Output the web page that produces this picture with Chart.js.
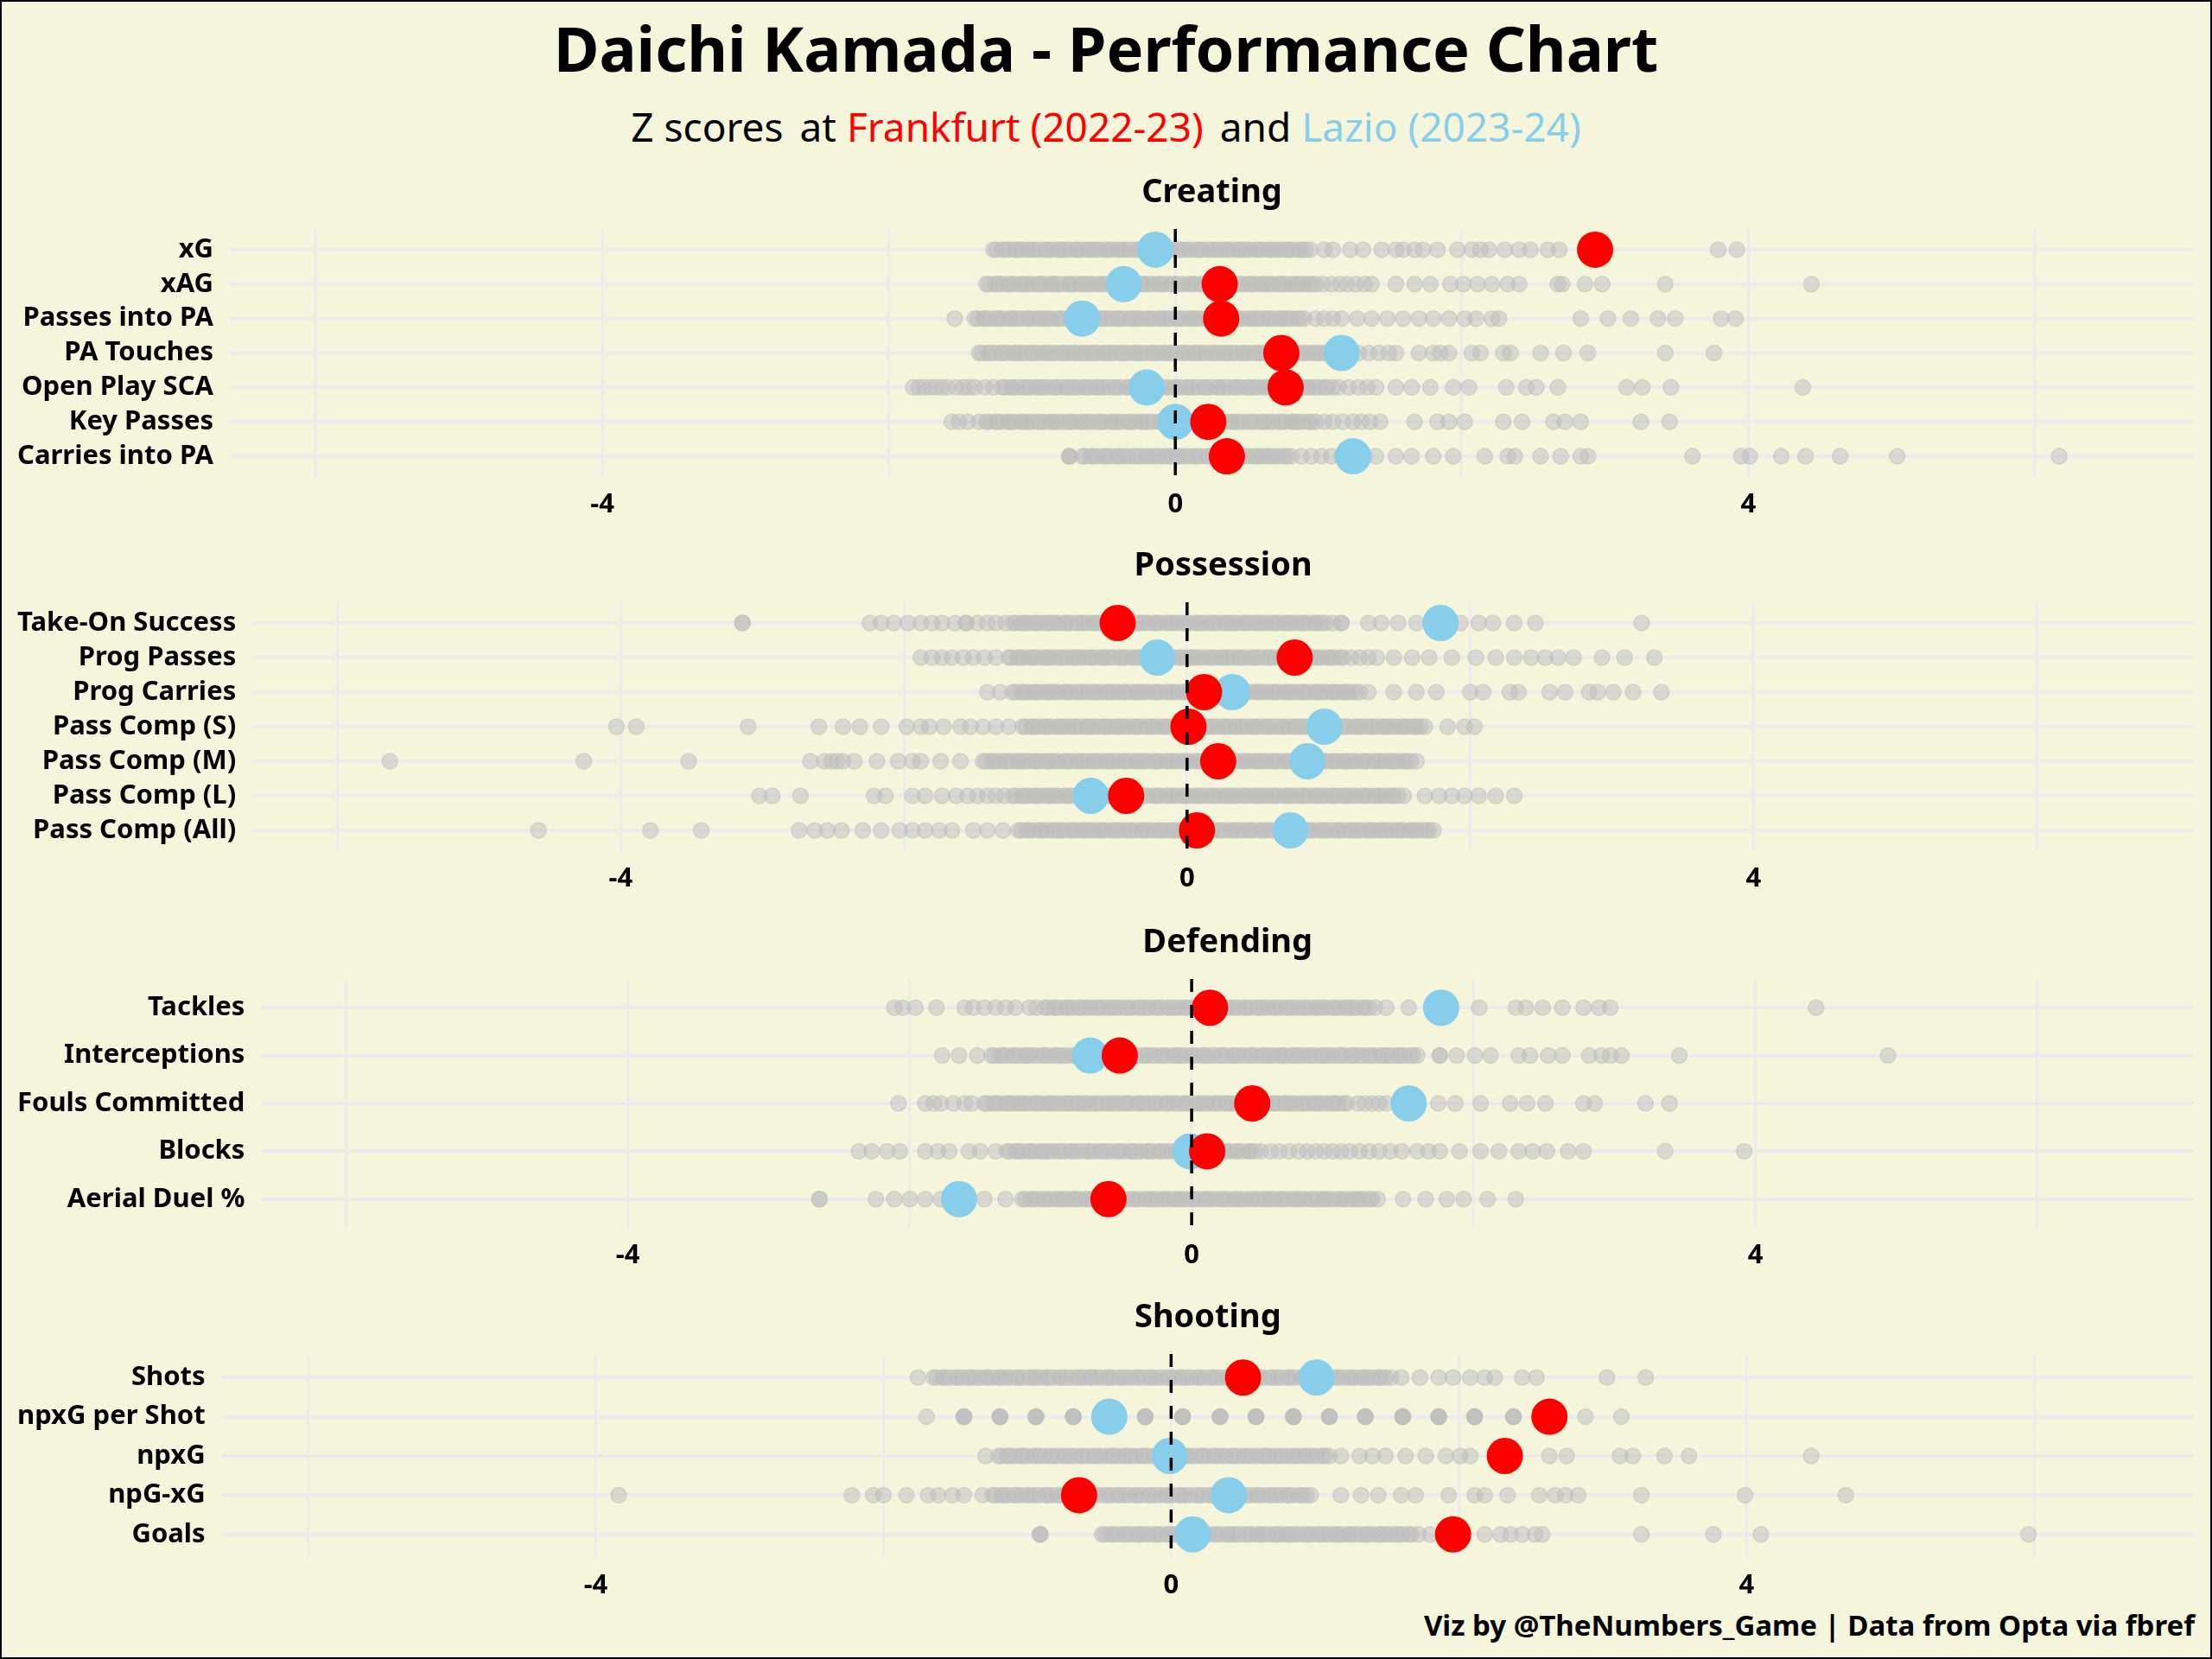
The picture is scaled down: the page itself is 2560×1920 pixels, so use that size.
<!DOCTYPE html>
<html>
<head>
<meta charset="utf-8">
<script src="https://cdn.jsdelivr.net/npm/chart.js@4.4.1/dist/chart.umd.min.js"></script>
<style>
html, body { margin: 0; padding: 0; background: #F5F5DC; }
#page { position: relative; width: 2560px; height: 1920px; background: #F5F5DC; overflow: hidden; font-family: 'Noto Sans', sans-serif; }
#frame { position: absolute; left: 0; top: 0; width: 2560px; height: 1920px; box-sizing: border-box; border: 2px solid #000; pointer-events: none; z-index: 5; }
.txt { position: absolute; left: 0; width: 2560px; text-align: center; white-space: pre; color: #000; }
#title { top: 15px; font-size: 72px; line-height: 80px; font-weight: 700; }
#subtitle { top: 116px; font-size: 46px; line-height: 60px; }
#subtitle .gap { margin-left: 7px; }
#caption { top: 1861px; left: auto; right: 20px; width: auto; font-size: 33px; line-height: 40px; font-weight: 700; text-align: right; }
canvas { position: absolute; left: 0; }
</style>
</head>
<body>
<div id="page">
  <div id="title" class="txt">Daichi Kamada - Performance Chart</div>
  <div id="subtitle" class="txt">Z scores <span class="gap">at</span> <span style="color:#FF0000">Frankfurt (2022-23)</span> <span class="gap">and</span> <span style="color:#87CEEB">Lazio (2023-24)</span></div>
  <div id="caption" class="txt">Viz by @TheNumbers_Game | Data from Opta via fbref</div>
  <div id="frame"></div>
</div>
<script>
// ---- data (z scores) ----
const creatingMetrics = ["xG", "xAG", "Passes into PA", "PA Touches", "Open Play SCA", "Key Passes", "Carries into PA"];
const creatingFrankfurt = [2.93, 0.31, 0.32, 0.74, 0.77, 0.23, 0.36];
const creatingLazio = [-0.14, -0.36, -0.65, 1.16, -0.20, 0.0, 1.24];
const creatingOthers = [
  [-1.27,-1.25,-1.21,-1.19,-1.16,-1.12,-1.1,-1.07,-1.03,-1.01,-0.98,-0.95,-0.91,-0.89,-0.86,-0.82,-0.8,-0.77,-0.74,-0.7,-0.68,-0.65,-0.61,-0.59,-0.56,-0.53,-0.49,-0.47,-0.44,-0.4,-0.38,-0.35,-0.32,-0.28,-0.26,-0.23,-0.19,-0.17,-0.14,-0.11,-0.07,-0.05,-0.02,0.02,0.04,0.07,0.1,0.14,0.16,0.19,0.23,0.25,0.28,0.31,0.35,0.37,0.4,0.44,0.46,0.49,0.52,0.56,0.58,0.61,0.65,0.67,0.7,0.73,0.77,0.79,0.82,0.86,0.88,0.91,0.94,1.04,1.1,1.22,1.31,1.44,1.54,1.59,1.67,1.73,1.83,1.97,2.07,2.13,2.19,2.3,2.4,2.48,2.6,2.68,3.79,3.92],
  [-1.32,-1.3,-1.26,-1.24,-1.21,-1.17,-1.15,-1.12,-1.08,-1.06,-1.03,-1,-0.96,-0.94,-0.91,-0.87,-0.85,-0.82,-0.79,-0.75,-0.73,-0.7,-0.66,-0.64,-0.61,-0.58,-0.54,-0.52,-0.49,-0.45,-0.43,-0.4,-0.37,-0.33,-0.31,-0.28,-0.24,-0.22,-0.19,-0.16,-0.12,-0.1,-0.07,-0.03,-0.01,0.02,0.05,0.09,0.11,0.14,0.18,0.2,0.23,0.26,0.3,0.32,0.35,0.39,0.41,0.44,0.47,0.51,0.53,0.56,0.6,0.62,0.65,0.68,0.72,0.74,0.77,0.81,0.83,0.86,0.89,0.93,0.95,0.98,1.03,1.09,1.15,1.2,1.26,1.32,1.37,1.54,1.67,1.78,1.92,2.01,2.11,2.21,2.32,2.4,2.67,2.7,2.86,2.98,3.42,4.44],
  [-1.54,-1.4,-1.38,-1.34,-1.32,-1.29,-1.25,-1.23,-1.2,-1.16,-1.14,-1.11,-1.08,-1.04,-1.02,-0.99,-0.95,-0.93,-0.9,-0.87,-0.83,-0.81,-0.78,-0.74,-0.72,-0.69,-0.66,-0.62,-0.6,-0.57,-0.53,-0.51,-0.48,-0.45,-0.41,-0.39,-0.36,-0.32,-0.3,-0.27,-0.24,-0.2,-0.18,-0.15,-0.11,-0.09,-0.06,-0.03,0.01,0.03,0.06,0.1,0.12,0.15,0.18,0.22,0.24,0.27,0.31,0.33,0.36,0.39,0.43,0.45,0.48,0.52,0.54,0.57,0.6,0.64,0.66,0.69,0.73,0.75,0.78,0.81,0.85,0.87,0.9,0.98,1.04,1.1,1.16,1.27,1.37,1.48,1.59,1.7,1.8,1.91,2.02,2.1,2.21,2.26,2.83,3.02,3.18,3.37,3.49,3.81,3.91],
  [-1.37,-1.35,-1.31,-1.29,-1.26,-1.22,-1.2,-1.17,-1.13,-1.11,-1.08,-1.05,-1.01,-0.99,-0.96,-0.92,-0.9,-0.87,-0.84,-0.8,-0.78,-0.75,-0.71,-0.69,-0.66,-0.63,-0.59,-0.57,-0.54,-0.5,-0.48,-0.45,-0.42,-0.38,-0.36,-0.33,-0.29,-0.27,-0.24,-0.21,-0.17,-0.15,-0.12,-0.08,-0.06,-0.03,0,0.04,0.06,0.09,0.13,0.15,0.18,0.21,0.25,0.27,0.3,0.34,0.36,0.39,0.42,0.46,0.48,0.51,0.55,0.57,0.6,0.63,0.67,0.69,0.72,0.76,0.78,0.81,0.84,0.88,0.9,0.93,0.97,0.99,1.02,1.05,1.09,1.11,1.14,1.18,1.2,1.23,1.28,1.35,1.42,1.49,1.54,1.7,1.8,1.85,1.91,2.07,2.13,2.29,2.34,2.55,2.71,2.88,3.42,3.76],
  [-1.83,-1.79,-1.75,-1.71,-1.67,-1.63,-1.59,-1.53,-1.48,-1.44,-1.4,-1.33,-1.27,-1.21,-1.19,-1.15,-1.13,-1.1,-1.06,-1.04,-1.01,-0.97,-0.95,-0.92,-0.89,-0.85,-0.83,-0.8,-0.76,-0.74,-0.71,-0.68,-0.64,-0.62,-0.59,-0.55,-0.53,-0.5,-0.47,-0.43,-0.41,-0.38,-0.34,-0.32,-0.29,-0.26,-0.22,-0.2,-0.17,-0.13,-0.11,-0.08,-0.05,-0.01,0.01,0.04,0.08,0.1,0.13,0.16,0.2,0.22,0.25,0.29,0.31,0.34,0.37,0.41,0.43,0.46,0.5,0.52,0.55,0.58,0.62,0.64,0.67,0.71,0.73,0.76,0.79,0.83,0.85,0.88,0.92,0.94,0.97,1,1.04,1.06,1.1,1.14,1.21,1.28,1.34,1.4,1.54,1.65,1.78,1.94,2.05,2.31,2.45,2.52,2.67,3.15,3.26,3.46,4.38],
  [-1.56,-1.51,-1.45,-1.37,-1.32,-1.3,-1.26,-1.24,-1.21,-1.17,-1.15,-1.12,-1.08,-1.06,-1.03,-1,-0.96,-0.94,-0.91,-0.87,-0.85,-0.82,-0.79,-0.75,-0.73,-0.7,-0.66,-0.64,-0.61,-0.58,-0.54,-0.52,-0.49,-0.45,-0.43,-0.4,-0.37,-0.33,-0.31,-0.28,-0.24,-0.22,-0.19,-0.16,-0.12,-0.1,-0.07,-0.03,-0.01,0.02,0.05,0.09,0.11,0.14,0.18,0.2,0.23,0.26,0.3,0.32,0.35,0.39,0.41,0.44,0.47,0.51,0.53,0.56,0.6,0.62,0.65,0.68,0.72,0.74,0.77,0.81,0.83,0.86,0.89,0.93,0.95,0.98,1.04,1.1,1.17,1.24,1.3,1.36,1.43,1.67,1.83,1.91,2.02,2.29,2.42,2.64,2.72,2.83,3.25,3.45],
  [-0.74,-0.74,-0.74,-0.65,-0.63,-0.59,-0.57,-0.54,-0.5,-0.48,-0.45,-0.41,-0.39,-0.36,-0.33,-0.29,-0.27,-0.24,-0.2,-0.18,-0.15,-0.12,-0.08,-0.06,-0.03,0.01,0.03,0.06,0.09,0.13,0.15,0.18,0.22,0.24,0.27,0.3,0.34,0.36,0.39,0.43,0.45,0.48,0.51,0.55,0.57,0.6,0.64,0.66,0.69,0.72,0.76,0.78,0.81,0.88,0.95,1.02,1.09,1.16,1.24,1.32,1.4,1.54,1.65,1.8,1.94,2.16,2.32,2.37,2.55,2.69,2.83,2.88,3.61,3.95,4.01,4.23,4.4,4.64,5.04,6.17]
];

const possessionMetrics = ["Take-On Success", "Prog Passes", "Prog Carries", "Pass Comp (S)", "Pass Comp (M)", "Pass Comp (L)", "Pass Comp (All)"];
const possessionFrankfurt = [-0.49, 0.76, 0.12, 0.01, 0.22, -0.43, 0.07];
const possessionLazio = [1.79, -0.21, 0.32, 0.97, 0.85, -0.68, 0.73];
const possessionOthers = [
  [-3.14,-3.14,-2.24,-2.16,-2.07,-1.97,-1.88,-1.8,-1.73,-1.64,-1.56,-1.56,-1.48,-1.41,-1.35,-1.28,-1.23,-1.21,-1.17,-1.15,-1.12,-1.08,-1.06,-1.03,-0.99,-0.97,-0.94,-0.91,-0.87,-0.85,-0.82,-0.78,-0.76,-0.73,-0.7,-0.66,-0.64,-0.61,-0.57,-0.55,-0.52,-0.49,-0.45,-0.43,-0.4,-0.36,-0.34,-0.31,-0.28,-0.24,-0.22,-0.19,-0.15,-0.13,-0.1,-0.07,-0.03,-0.01,0.02,0.06,0.08,0.11,0.14,0.18,0.2,0.23,0.27,0.29,0.32,0.35,0.39,0.41,0.44,0.48,0.5,0.53,0.56,0.6,0.62,0.65,0.69,0.71,0.74,0.77,0.81,0.83,0.86,0.9,0.92,0.95,0.98,1.03,1.09,1.09,1.28,1.37,1.49,1.62,1.93,2.06,2.16,2.31,2.46,3.21],
  [-1.88,-1.8,-1.73,-1.66,-1.58,-1.51,-1.43,-1.35,-1.26,-1.24,-1.2,-1.18,-1.15,-1.11,-1.09,-1.06,-1.02,-1,-0.97,-0.94,-0.9,-0.88,-0.85,-0.81,-0.79,-0.76,-0.73,-0.69,-0.67,-0.64,-0.6,-0.58,-0.55,-0.52,-0.48,-0.46,-0.43,-0.39,-0.37,-0.34,-0.31,-0.27,-0.25,-0.22,-0.18,-0.16,-0.13,-0.1,-0.06,-0.04,-0.01,0.03,0.05,0.08,0.11,0.15,0.17,0.2,0.24,0.26,0.29,0.32,0.36,0.38,0.41,0.45,0.47,0.5,0.53,0.57,0.59,0.62,0.66,0.68,0.71,0.74,0.78,0.8,0.83,0.87,0.89,0.92,0.95,0.99,1.01,1.04,1.08,1.1,1.16,1.22,1.28,1.34,1.46,1.59,1.71,1.87,2.04,2.18,2.31,2.43,2.53,2.62,2.73,2.93,3.09,3.3],
  [-1.41,-1.32,-1.23,-1.21,-1.17,-1.15,-1.12,-1.08,-1.06,-1.03,-0.99,-0.97,-0.94,-0.91,-0.87,-0.85,-0.82,-0.78,-0.76,-0.73,-0.7,-0.66,-0.64,-0.61,-0.57,-0.55,-0.52,-0.49,-0.45,-0.43,-0.4,-0.36,-0.34,-0.31,-0.28,-0.24,-0.22,-0.19,-0.15,-0.13,-0.1,-0.07,-0.03,-0.01,0.02,0.06,0.08,0.11,0.14,0.18,0.2,0.23,0.27,0.29,0.32,0.35,0.39,0.41,0.44,0.48,0.5,0.53,0.56,0.6,0.62,0.65,0.69,0.71,0.74,0.77,0.81,0.83,0.86,0.9,0.92,0.95,0.98,1.02,1.04,1.07,1.11,1.13,1.16,1.19,1.22,1.28,1.46,1.62,1.76,2,2.09,2.28,2.34,2.56,2.67,2.84,2.9,3.01,3.15,3.35],
  [-4.03,-3.89,-3.1,-2.6,-2.43,-2.31,-2.16,-1.98,-1.88,-1.82,-1.72,-1.6,-1.53,-1.44,-1.35,-1.26,-1.16,-1.14,-1.1,-1.08,-1.05,-1.01,-0.99,-0.96,-0.92,-0.9,-0.87,-0.84,-0.8,-0.78,-0.75,-0.71,-0.69,-0.66,-0.63,-0.59,-0.57,-0.54,-0.5,-0.48,-0.45,-0.42,-0.38,-0.36,-0.33,-0.29,-0.27,-0.24,-0.21,-0.17,-0.15,-0.12,-0.08,-0.06,-0.03,0,0.04,0.06,0.09,0.13,0.15,0.18,0.21,0.25,0.27,0.3,0.34,0.36,0.39,0.42,0.46,0.48,0.51,0.55,0.57,0.6,0.63,0.67,0.69,0.72,0.76,0.78,0.81,0.84,0.88,0.9,0.93,0.97,0.99,1.02,1.05,1.09,1.11,1.14,1.18,1.2,1.23,1.26,1.3,1.32,1.35,1.39,1.41,1.44,1.47,1.51,1.53,1.56,1.6,1.62,1.65,1.68,1.84,1.96,2.03],
  [-5.63,-4.26,-3.52,-2.66,-2.56,-2.51,-2.47,-2.43,-2.35,-2.19,-2.04,-1.94,-1.88,-1.74,-1.6,-1.44,-1.42,-1.38,-1.36,-1.33,-1.29,-1.27,-1.24,-1.2,-1.18,-1.15,-1.12,-1.08,-1.06,-1.03,-0.99,-0.97,-0.94,-0.91,-0.87,-0.85,-0.82,-0.78,-0.76,-0.73,-0.7,-0.66,-0.64,-0.61,-0.57,-0.55,-0.52,-0.49,-0.45,-0.43,-0.4,-0.36,-0.34,-0.31,-0.28,-0.24,-0.22,-0.19,-0.15,-0.13,-0.1,-0.07,-0.03,-0.01,0.02,0.06,0.08,0.11,0.14,0.18,0.2,0.23,0.27,0.29,0.32,0.35,0.39,0.41,0.44,0.48,0.5,0.53,0.56,0.6,0.62,0.65,0.69,0.71,0.74,0.77,0.81,0.83,0.86,0.9,0.92,0.95,0.98,1.02,1.04,1.07,1.11,1.13,1.16,1.19,1.23,1.25,1.28,1.32,1.34,1.37,1.4,1.44,1.46,1.49,1.53,1.55,1.58,1.62],
  [-3.02,-2.93,-2.73,-2.21,-2.13,-1.94,-1.85,-1.73,-1.63,-1.55,-1.48,-1.41,-1.35,-1.29,-1.23,-1.21,-1.17,-1.15,-1.12,-1.08,-1.06,-1.03,-0.99,-0.97,-0.94,-0.91,-0.87,-0.85,-0.82,-0.78,-0.76,-0.73,-0.7,-0.66,-0.64,-0.61,-0.57,-0.55,-0.52,-0.49,-0.45,-0.43,-0.4,-0.36,-0.34,-0.31,-0.28,-0.24,-0.22,-0.19,-0.15,-0.13,-0.1,-0.07,-0.03,-0.01,0.02,0.06,0.08,0.11,0.14,0.18,0.2,0.23,0.27,0.29,0.32,0.35,0.39,0.41,0.44,0.48,0.5,0.53,0.56,0.6,0.62,0.65,0.69,0.71,0.74,0.77,0.81,0.83,0.86,0.9,0.92,0.95,0.98,1.02,1.04,1.07,1.11,1.13,1.16,1.19,1.23,1.25,1.28,1.32,1.34,1.37,1.4,1.44,1.46,1.49,1.53,1.68,1.78,1.87,1.96,2.06,2.18,2.31],
  [-4.58,-3.79,-3.43,-2.74,-2.63,-2.54,-2.44,-2.29,-2.16,-2.03,-1.94,-1.85,-1.75,-1.66,-1.51,-1.41,-1.3,-1.19,-1.17,-1.13,-1.11,-1.08,-1.04,-1.02,-0.99,-0.95,-0.93,-0.9,-0.87,-0.83,-0.81,-0.78,-0.74,-0.72,-0.69,-0.66,-0.62,-0.6,-0.57,-0.53,-0.51,-0.48,-0.45,-0.41,-0.39,-0.36,-0.32,-0.3,-0.27,-0.24,-0.2,-0.18,-0.15,-0.11,-0.09,-0.06,-0.03,0.01,0.03,0.06,0.1,0.12,0.15,0.18,0.22,0.24,0.27,0.31,0.33,0.36,0.39,0.43,0.45,0.48,0.52,0.54,0.57,0.6,0.64,0.66,0.69,0.73,0.75,0.78,0.81,0.85,0.87,0.9,0.94,0.96,0.99,1.02,1.06,1.08,1.11,1.15,1.17,1.2,1.23,1.27,1.29,1.32,1.36,1.38,1.41,1.44,1.48,1.5,1.53,1.57,1.59,1.62,1.65,1.69,1.71,1.74]
];

const defendingMetrics = ["Tackles", "Interceptions", "Fouls Committed", "Blocks", "Aerial Duel %"];
const defendingFrankfurt = [0.13, -0.51, 0.43, 0.11, -0.59];
const defendingLazio = [1.77, -0.72, 1.54, -0.01, -1.65];
const defendingOthers = [
  [-2.11,-2.05,-1.96,-1.81,-1.61,-1.55,-1.47,-1.39,-1.32,-1.25,-1.15,-1.1,-1.04,-1.02,-0.98,-0.96,-0.93,-0.89,-0.87,-0.84,-0.8,-0.78,-0.75,-0.72,-0.68,-0.66,-0.63,-0.59,-0.57,-0.54,-0.51,-0.47,-0.45,-0.42,-0.38,-0.36,-0.33,-0.3,-0.26,-0.24,-0.21,-0.17,-0.15,-0.12,-0.09,-0.05,-0.03,0,0.04,0.06,0.09,0.12,0.16,0.18,0.21,0.25,0.27,0.3,0.33,0.37,0.39,0.42,0.46,0.48,0.51,0.54,0.58,0.6,0.63,0.67,0.69,0.72,0.75,0.79,0.81,0.84,0.88,0.9,0.93,0.96,1,1.02,1.05,1.09,1.11,1.14,1.17,1.21,1.23,1.26,1.3,1.38,1.54,2.04,2.3,2.37,2.49,2.63,2.78,2.89,2.97,4.43],
  [-1.77,-1.65,-1.52,-1.42,-1.4,-1.36,-1.34,-1.31,-1.27,-1.25,-1.22,-1.18,-1.16,-1.13,-1.1,-1.06,-1.04,-1.01,-0.97,-0.95,-0.92,-0.89,-0.85,-0.83,-0.8,-0.76,-0.74,-0.71,-0.68,-0.64,-0.62,-0.59,-0.55,-0.53,-0.5,-0.47,-0.43,-0.41,-0.38,-0.34,-0.32,-0.29,-0.26,-0.22,-0.2,-0.17,-0.13,-0.11,-0.08,-0.05,-0.01,0.01,0.04,0.08,0.1,0.13,0.16,0.2,0.22,0.25,0.29,0.31,0.34,0.37,0.41,0.43,0.46,0.5,0.52,0.55,0.58,0.62,0.64,0.67,0.71,0.73,0.76,0.79,0.83,0.85,0.88,0.92,0.94,0.97,1,1.04,1.06,1.09,1.13,1.15,1.18,1.21,1.25,1.27,1.3,1.34,1.36,1.39,1.42,1.46,1.48,1.51,1.55,1.57,1.6,1.76,1.76,1.88,2.01,2.12,2.32,2.4,2.53,2.63,2.82,2.91,2.97,3.05,3.46,4.94],
  [-2.08,-1.89,-1.83,-1.78,-1.69,-1.61,-1.56,-1.47,-1.45,-1.41,-1.39,-1.36,-1.32,-1.3,-1.27,-1.23,-1.21,-1.18,-1.15,-1.11,-1.09,-1.06,-1.02,-1,-0.97,-0.94,-0.9,-0.88,-0.85,-0.81,-0.79,-0.76,-0.73,-0.69,-0.67,-0.64,-0.6,-0.58,-0.55,-0.52,-0.48,-0.46,-0.43,-0.39,-0.37,-0.34,-0.31,-0.27,-0.25,-0.22,-0.18,-0.16,-0.13,-0.1,-0.06,-0.04,-0.01,0.03,0.05,0.08,0.11,0.15,0.17,0.2,0.24,0.26,0.29,0.32,0.36,0.38,0.41,0.45,0.47,0.5,0.53,0.57,0.59,0.62,0.66,0.68,0.71,0.74,0.78,0.8,0.83,0.87,0.89,0.92,0.95,0.99,1.01,1.04,1.08,1.1,1.18,1.23,1.28,1.33,1.38,1.75,1.87,2.05,2.26,2.38,2.51,2.78,2.86,3.22,3.39],
  [-2.36,-2.27,-2.16,-2.07,-1.89,-1.8,-1.72,-1.58,-1.5,-1.39,-1.31,-1.29,-1.25,-1.23,-1.2,-1.16,-1.14,-1.11,-1.07,-1.05,-1.02,-0.99,-0.95,-0.93,-0.9,-0.86,-0.84,-0.81,-0.78,-0.74,-0.72,-0.69,-0.65,-0.63,-0.6,-0.57,-0.53,-0.51,-0.48,-0.44,-0.42,-0.39,-0.36,-0.32,-0.3,-0.27,-0.23,-0.21,-0.18,-0.15,-0.11,-0.09,-0.06,-0.02,0,0.03,0.06,0.1,0.12,0.15,0.19,0.21,0.24,0.27,0.31,0.33,0.36,0.4,0.42,0.45,0.49,0.56,0.62,0.69,0.76,0.82,0.88,0.94,1,1.06,1.12,1.19,1.26,1.33,1.41,1.49,1.6,1.68,1.76,1.9,2.05,2.18,2.32,2.42,2.52,2.67,2.78,3.36,3.92],
  [-2.64,-2.64,-2.24,-2.11,-2,-1.89,-1.78,-1.6,-1.47,-1.32,-1.2,-1.18,-1.14,-1.12,-1.09,-1.05,-1.03,-1,-0.96,-0.94,-0.91,-0.88,-0.84,-0.82,-0.79,-0.75,-0.73,-0.7,-0.67,-0.63,-0.61,-0.58,-0.54,-0.52,-0.49,-0.46,-0.42,-0.4,-0.37,-0.33,-0.31,-0.28,-0.25,-0.21,-0.19,-0.16,-0.12,-0.1,-0.07,-0.04,0,0.02,0.05,0.09,0.11,0.14,0.17,0.21,0.23,0.26,0.3,0.32,0.35,0.38,0.42,0.44,0.47,0.51,0.53,0.56,0.59,0.63,0.65,0.68,0.72,0.74,0.77,0.8,0.84,0.86,0.89,0.93,0.95,0.98,1.01,1.05,1.07,1.1,1.14,1.16,1.19,1.22,1.26,1.28,1.32,1.5,1.66,1.81,1.93,2.1,2.3]
];

const shootingMetrics = ["Shots", "npxG per Shot", "npxG", "npG-xG", "Goals"];
const shootingFrankfurt = [0.50, 2.63, 2.32, -0.64, 1.96];
const shootingLazio = [1.01, -0.43, -0.01, 0.40, 0.15];
const shootingOthers = [
  [-1.76,-1.65,-1.63,-1.59,-1.57,-1.54,-1.5,-1.48,-1.45,-1.41,-1.39,-1.36,-1.33,-1.29,-1.27,-1.24,-1.2,-1.18,-1.15,-1.12,-1.08,-1.06,-1.03,-0.99,-0.97,-0.94,-0.91,-0.87,-0.85,-0.82,-0.78,-0.76,-0.73,-0.7,-0.66,-0.64,-0.61,-0.57,-0.55,-0.52,-0.49,-0.45,-0.43,-0.4,-0.36,-0.34,-0.31,-0.28,-0.24,-0.22,-0.19,-0.15,-0.13,-0.1,-0.07,-0.03,-0.01,0.02,0.06,0.08,0.11,0.14,0.18,0.2,0.23,0.27,0.29,0.32,0.35,0.39,0.41,0.44,0.48,0.5,0.53,0.56,0.6,0.62,0.65,0.69,0.71,0.74,0.77,0.81,0.83,0.86,0.9,0.92,0.95,0.98,1.02,1.04,1.07,1.11,1.13,1.16,1.19,1.23,1.25,1.28,1.32,1.34,1.37,1.4,1.44,1.46,1.49,1.53,1.6,1.73,1.86,1.96,2.08,2.18,2.25,2.44,2.54,3.03,3.3],
  [-1.7,-1.44,-1.44,-1.44,-1.44,-1.19,-1.19,-1.19,-1.19,-0.94,-0.94,-0.94,-0.94,-0.68,-0.68,-0.68,-0.68,-0.43,-0.43,-0.43,-0.43,-0.18,-0.18,-0.18,-0.18,0.08,0.08,0.08,0.08,0.34,0.34,0.34,0.34,0.59,0.59,0.59,0.59,0.85,0.85,0.85,0.85,1.1,1.1,1.1,1.1,1.35,1.35,1.35,1.35,1.61,1.61,1.61,1.61,1.86,1.86,1.86,1.86,2.11,2.11,2.11,2.11,2.38,2.38,2.38,2.63,2.63,2.88,3.13],
  [-1.29,-1.2,-1.18,-1.14,-1.12,-1.09,-1.05,-1.03,-1,-0.96,-0.94,-0.91,-0.88,-0.84,-0.82,-0.79,-0.75,-0.73,-0.7,-0.67,-0.63,-0.61,-0.58,-0.54,-0.52,-0.49,-0.46,-0.42,-0.4,-0.37,-0.33,-0.31,-0.28,-0.25,-0.21,-0.19,-0.16,-0.12,-0.1,-0.07,-0.04,0,0.02,0.05,0.09,0.11,0.14,0.17,0.21,0.23,0.26,0.3,0.32,0.35,0.38,0.42,0.44,0.47,0.51,0.53,0.56,0.59,0.63,0.65,0.68,0.72,0.74,0.77,0.8,0.84,0.86,0.89,0.93,0.95,0.98,1.01,1.05,1.07,1.1,1.18,1.31,1.4,1.49,1.63,1.77,1.91,2.01,2.08,2.63,2.75,3.12,3.21,3.43,3.6,4.45],
  [-3.84,-2.22,-2.07,-2,-1.84,-1.69,-1.62,-1.52,-1.44,-1.31,-1.24,-1.22,-1.18,-1.16,-1.13,-1.09,-1.07,-1.04,-1,-0.98,-0.95,-0.92,-0.88,-0.86,-0.83,-0.79,-0.77,-0.74,-0.71,-0.67,-0.65,-0.62,-0.58,-0.56,-0.53,-0.5,-0.46,-0.44,-0.41,-0.37,-0.35,-0.32,-0.29,-0.25,-0.23,-0.2,-0.16,-0.14,-0.11,-0.08,-0.04,-0.02,0.01,0.05,0.07,0.1,0.13,0.17,0.19,0.22,0.26,0.28,0.31,0.34,0.38,0.4,0.43,0.47,0.49,0.52,0.55,0.59,0.61,0.64,0.68,0.7,0.73,0.76,0.8,0.82,0.85,0.89,0.91,0.94,0.97,1.18,1.32,1.44,1.6,1.7,1.93,2.11,2.18,2.34,2.56,2.67,2.74,2.83,3.27,3.99,4.69],
  [-0.91,-0.91,-0.91,-0.48,-0.46,-0.42,-0.4,-0.37,-0.33,-0.31,-0.28,-0.24,-0.22,-0.19,-0.16,-0.12,-0.1,-0.07,-0.03,-0.01,0.02,0.05,0.09,0.11,0.14,0.18,0.2,0.23,0.26,0.3,0.32,0.35,0.39,0.41,0.44,0.47,0.51,0.53,0.56,0.6,0.62,0.65,0.68,0.72,0.74,0.77,0.81,0.83,0.86,0.89,0.93,0.95,0.98,1.02,1.04,1.07,1.1,1.14,1.16,1.19,1.23,1.25,1.28,1.31,1.35,1.37,1.4,1.44,1.46,1.49,1.52,1.56,1.58,1.61,1.65,1.67,1.72,1.8,1.91,2.18,2.29,2.36,2.44,2.53,2.58,3.27,3.77,4.1,5.96]
];

const xTickLabels = [-4, 0, 4];
const xGridValues = [-6, -4, -2, 0, 2, 4, 6];

// ---- layout (pixels of plot panels) ----
const panelLayout = [
  { top: 265, bottom: 552 },
  { top: 697, bottom: 985 },
  { top: 1133, bottom: 1421 },
  { top: 1567, bottom: 1803 }
];

const panels = [
  { name: "Creating", metrics: creatingMetrics, frankfurt: creatingFrankfurt, lazio: creatingLazio, others: creatingOthers },
  { name: "Possession", metrics: possessionMetrics, frankfurt: possessionFrankfurt, lazio: possessionLazio, others: possessionOthers },
  { name: "Defending", metrics: defendingMetrics, frankfurt: defendingFrankfurt, lazio: defendingLazio, others: defendingOthers },
  { name: "Shooting", metrics: shootingMetrics, frankfurt: shootingFrankfurt, lazio: shootingLazio, others: shootingOthers }
];

Chart.defaults.font.family = "'Noto Sans', sans-serif";
Chart.defaults.color = '#000';

const TITLE_BLOCK = 74;   // 9 + 38*1.2 + 19.4
const AXIS_BLOCK = 68;    // 2*14 + 31*1.2 + 2.8

function addPanel(panel, box) {
  const n = panel.metrics.length;
  const canvas = document.createElement('canvas');
  canvas.width = 2560;
  canvas.height = box.bottom - box.top + TITLE_BLOCK + AXIS_BLOCK;
  canvas.style.top = (box.top - TITLE_BLOCK) + 'px';
  document.getElementById('page').insertBefore(canvas, document.getElementById('frame'));

  const others = [];
  panel.others.forEach((row, i) => row.forEach(v => others.push({ x: v, y: i + 1 })));

  return new Chart(canvas.getContext('2d'), {
    type: 'scatter',
    data: {
      datasets: [
        {
          label: 'zero',
          data: [{ x: 0, y: 0.4 }, { x: 0, y: n + 0.6 }],
          showLine: true,
          borderColor: '#000',
          borderWidth: 3.5,
          borderDash: [15, 15],
          pointRadius: 0,
          order: 0
        },
        {
          label: 'Frankfurt (2022-23)',
          data: panel.frankfurt.map((v, i) => ({ x: v, y: i + 1 })),
          backgroundColor: '#FF0000',
          borderWidth: 0,
          pointRadius: 21,
          order: 1
        },
        {
          label: 'Lazio (2023-24)',
          data: panel.lazio.map((v, i) => ({ x: v, y: i + 1 })),
          backgroundColor: '#87CEEB',
          borderWidth: 0,
          pointRadius: 21,
          order: 2
        },
        {
          label: 'Other players',
          data: others,
          backgroundColor: 'rgba(190,190,190,0.5)',
          borderColor: 'rgba(190,190,190,0.5)',
          borderWidth: 1.5,
          pointRadius: 9,
          order: 3
        }
      ]
    },
    options: {
      responsive: false,
      animation: false,
      devicePixelRatio: 1,
      events: [],
      layout: { padding: { left: 1, right: 21, top: 0, bottom: AXIS_BLOCK - 65.2 } },
      plugins: {
        legend: { display: false },
        tooltip: { enabled: false },
        title: {
          display: true,
          text: panel.name,
          fullSize: false,
          color: '#000',
          font: { size: 38, weight: 'bold', lineHeight: 1.2 },
          padding: { top: 9, bottom: 19.4 }
        }
      },
      scales: {
        x: {
          type: 'linear',
          min: -6.6,
          max: 7.11,
          afterBuildTicks: s => { s.ticks = xGridValues.map(v => ({ value: v })); },
          ticks: {
            callback: v => xTickLabels.includes(v) ? String(v) : '',
            font: { size: 31, weight: 'bold', lineHeight: 1.2 },
            color: '#000',
            padding: 14,
            maxRotation: 0,
            autoSkip: false
          },
          grid: { color: '#EBEBEB', lineWidth: 3, drawTicks: false },
          border: { display: false }
        },
        y: {
          type: 'linear',
          reverse: true,
          min: 0.4,
          max: n + 0.6,
          afterBuildTicks: s => { s.ticks = panel.metrics.map((_, i) => ({ value: i + 1 })); },
          ticks: {
            callback: (v, i) => panel.metrics[i],
            font: { size: 31, weight: 'bold', lineHeight: 1.2 },
            color: '#000',
            padding: 19,
            autoSkip: false
          },
          grid: { color: '#EBEBEB', lineWidth: 4, drawTicks: false },
          border: { display: false }
        }
      }
    }
  });
}

panels.forEach((p, i) => addPanel(p, panelLayout[i]));
</script>
</body>
</html>
